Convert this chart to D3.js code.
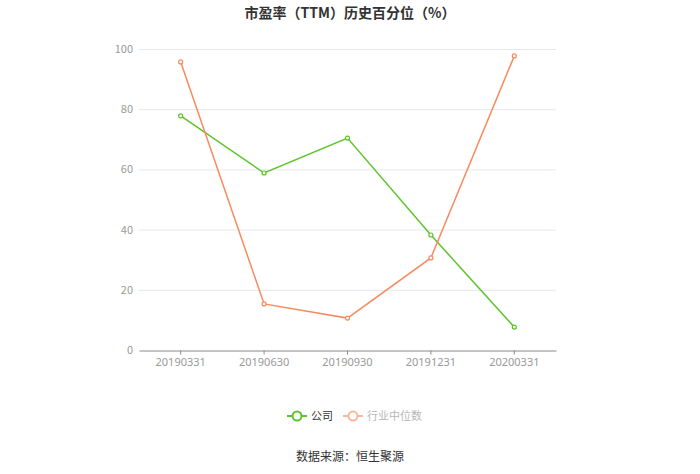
<!DOCTYPE html>
<html><head><meta charset="utf-8">
<script src="https://cdn.jsdelivr.net/npm/d3@7/dist/d3.min.js"></script>
<style>body{margin:0;background:#fff;font-family:"Noto Sans CJK SC","Noto Sans",sans-serif;}</style>
</head><body><svg id="c" width="700" height="474"></svg>
<script>
const categories = ["20190331","20190630","20190930","20191231","20200331"];
const companyValues = [77.8, 58.8, 70.4, 38.2, 7.6];
const industryValues = [95.7, 15.3, 10.6, 30.6, 97.7];
const yTicks = [0,20,40,60,80,100];
const seriesNames = ["公司","行业中位数"];
const colors = ["#5cc42b","#f68b60"];

(function(){
const svg = d3.select("#c");
const pl=139, pr=556, pt=49, pb=350;
const x = d3.scaleBand().domain(categories).range([pl,pr]);
const y = d3.scaleLinear().domain([0,100]).range([pb,pt]);

svg.append("text").attr("x",350).attr("y",18).attr("text-anchor","middle")
  .attr("font-size",14).attr("font-weight","bold").attr("fill","#333").text("市盈率（TTM）历史百分位（%）");

// grid
svg.append("g").selectAll("line").data(yTicks.filter(d=>d>0)).join("line")
  .attr("x1",pl).attr("x2",pr).attr("y1",d=>y(d)+0.5).attr("y2",d=>y(d)+0.5)
  .attr("stroke","#e6e8f0").attr("stroke-width",1);
svg.append("g").selectAll("text").data(yTicks).join("text")
  .attr("x",133).attr("y",d=>y(d)+4).attr("text-anchor","end").attr("font-size",11)
  .attr("fill","#999").text(d=>d);

// x axis
const xAxis = d3.axisBottom(x).tickSize(4).tickSizeOuter(0).tickPadding(4);
const gx = svg.append("g").attr("transform",`translate(0,${pb+0.5})`).call(xAxis);
gx.select(".domain").attr("stroke","#888");
gx.selectAll(".tick line").attr("stroke","#888");
gx.selectAll(".tick text").attr("fill","#999").attr("font-size",11).attr("font-family","\"Noto Sans\",sans-serif");

const series=[companyValues,industryValues];
const line=d3.line().x((d,i)=>x(categories[i])+x.bandwidth()/2).y(d=>y(d));
series.forEach((vals,si)=>{
  svg.append("path").datum(vals).attr("d",line).attr("fill","none").attr("stroke",colors[si]).attr("stroke-width",1.5);
  svg.append("g").selectAll("circle").data(vals).join("circle")
    .attr("cx",(d,i)=>x(categories[i])+x.bandwidth()/2).attr("cy",d=>y(d)).attr("r",2)
    .attr("fill","#fff").attr("stroke",colors[si]).attr("stroke-width",1.2);
});

// legend
const lg=[{x:287,tx:311},{x:343,tx:367}];
seriesNames.forEach((n,i)=>{
  const g=svg.append("g").attr("opacity",i===1?0.6:1);
  g.append("line").attr("x1",lg[i].x).attr("x2",lg[i].x+20).attr("y1",416).attr("y2",416).attr("stroke",colors[i]).attr("stroke-width",2);
  g.append("circle").attr("cx",lg[i].x+10).attr("cy",416).attr("r",4.5).attr("fill","#fff").attr("stroke",colors[i]).attr("stroke-width",2);
  g.append("text").attr("x",lg[i].tx).attr("y",420).attr("font-size",11).attr("fill",i===1?"#888":"#333").text(n);
});

svg.append("text").attr("x",350).attr("y",461).attr("text-anchor","middle").attr("font-size",12).attr("fill","#333").text("数据来源：恒生聚源");
})();
</script></body></html>
